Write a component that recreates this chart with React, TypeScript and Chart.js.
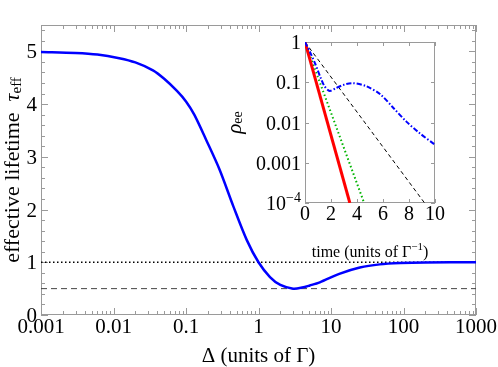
import React, { useEffect, useRef } from 'react';
import { Chart, registerables } from 'chart.js';
Chart.register(...registerables);

// ---------- main chart data ----------
const DELTA = [0.001, 0.003, 0.006, 0.012, 0.02, 0.035, 0.05, 0.075, 0.1, 0.13, 0.19, 0.29, 0.45, 0.69, 1.0, 1.44, 2.0, 3.0, 4.0, 5.1, 7.0, 13, 25, 47, 90, 200, 1000];
const TAU_EFF = [4.99, 4.97, 4.94, 4.87, 4.79, 4.64, 4.48, 4.25, 4.05, 3.8, 3.32, 2.76, 2.06, 1.42, 1.0, 0.72, 0.57, 0.5, 0.52, 0.56, 0.62, 0.78, 0.9, 0.96, 0.985, 0.997, 1.0];
const X_MIN = 0.001;
const X_MAX = 1000;
const Y_MIN = 0;
const Y_MAX = 5.5;
const X_TICKS = [0.001, 0.01, 0.1, 1, 10, 100, 1000];
const X_TICK_LABELS = ['0.001', '0.01', '0.1', '1', '10', '100', '1000'];
const Y_TICKS = [0, 1, 2, 3, 4, 5];
const Y_TICK_LABELS = ['0', '1', '2', '3', '4', '5'];
const LEVEL_DOTTED = 1;
const LEVEL_DASHED = 0.5;

// ---------- inset data ----------
const T_RED = [0, 3.45];
const RHO_RED = [1, 1e-4];
const T_GREEN = [0, 4.55];
const RHO_GREEN = [1, 1e-4];
const T_BLACK = [0, 9.2];
const RHO_BLACK = [1, 1e-4];
const T_BLUE = [0, 0.4, 0.8, 1.2, 1.5, 1.9, 2.4, 3.0, 3.7, 4.7, 5.8, 6.8, 7.8, 8.8, 10];
const RHO_BLUE = [1, 0.55, 0.28, 0.13, 0.08, 0.061, 0.072, 0.087, 0.095, 0.08, 0.05, 0.023, 0.0105, 0.0055, 0.0028];
const T_MIN = 0;
const T_MAX = 10;
const RHO_MIN = 1e-4;
const RHO_MAX = 1;
const T_TICKS = [0, 2, 4, 6, 8, 10];
const T_TICK_LABELS = ['0', '2', '4', '6', '8', '10'];
const RHO_TICKS = [1e-4, 1e-3, 1e-2, 0.1, 1];
const RHO_TICK_LABELS = ['10^\u22124', '0.001', '0.01', '0.1', '1'];

const SERIF = '"Liberation Serif", "DejaVu Serif", serif';
const FRAME = '#9a9a9a';

type Part = { text: string; font: string; dy?: number };

function drawRich(ctx: CanvasRenderingContext2D, parts: Part[], x: number, y: number, align: 'left' | 'center' | 'right', rotate: boolean) {
  ctx.save();
  ctx.translate(x, y);
  if (rotate) ctx.rotate(-Math.PI / 2);
  let total = 0;
  for (const p of parts) {
    ctx.font = p.font;
    total += ctx.measureText(p.text).width;
  }
  let cx = align === 'center' ? -total / 2 : align === 'right' ? -total : 0;
  ctx.fillStyle = '#000';
  ctx.textBaseline = 'alphabetic';
  ctx.textAlign = 'left';
  for (const p of parts) {
    ctx.font = p.font;
    ctx.fillText(p.text, cx, p.dy || 0);
    cx += ctx.measureText(p.text).width;
  }
  ctx.restore();
}

function labelParts(label: string, size: number): Part[] {
  const i = label.indexOf('^');
  if (i < 0) return [{ text: label, font: `${size}px ${SERIF}` }];
  return [
    { text: label.slice(0, i), font: `${size}px ${SERIF}` },
    { text: label.slice(i + 1), font: `${Math.round(size * 0.68)}px ${SERIF}`, dy: -Math.round(size * 0.42) },
  ];
}

// draws tick labels at the positions given by the chart's own scales
function tickLabelPlugin(id: string, xLabels: string[], yLabels: string[], size: number, xBaseGap: number, yGap: number, yShift: number) {
  return {
    id,
    afterDraw(chart: any) {
      const ctx = chart.ctx as CanvasRenderingContext2D;
      const { left, bottom } = chart.chartArea;
      const xs = chart.scales.x;
      const ys = chart.scales.y;
      xs.ticks.forEach((t: any, i: number) => {
        drawRich(ctx, labelParts(xLabels[i], size), xs.getPixelForValue(t.value), bottom + xBaseGap, 'center', false);
      });
      ys.ticks.forEach((t: any, i: number) => {
        drawRich(ctx, labelParts(yLabels[i], size), left - yGap, ys.getPixelForValue(t.value) + yShift, 'right', false);
      });
    },
  };
}

function framePlugin(id: string, xMin: number[], yMin: number[], majLen: number, minLen: number) {
  return {
    id,
    beforeDatasetsDraw(chart: any) {
      const ctx = chart.ctx as CanvasRenderingContext2D;
      const { left, right, top, bottom } = chart.chartArea;
      const xs = chart.scales.x;
      const ys = chart.scales.y;
      ctx.save();
      ctx.strokeStyle = FRAME;
      ctx.lineWidth = 1;
      ctx.strokeRect(left + 0.5, top + 0.5, right - left - 1, bottom - top - 1);
      ctx.beginPath();
      const xt = (vals: number[], len: number) => {
        for (const v of vals) {
          const px = Math.round(xs.getPixelForValue(v)) + 0.5;
          ctx.moveTo(px, bottom);
          ctx.lineTo(px, bottom - len);
          ctx.moveTo(px, top);
          ctx.lineTo(px, top + len);
        }
      };
      const yt = (vals: number[], len: number) => {
        for (const v of vals) {
          const py = Math.round(ys.getPixelForValue(v)) + 0.5;
          ctx.moveTo(left, py);
          ctx.lineTo(left + len, py);
          ctx.moveTo(right, py);
          ctx.lineTo(right - len, py);
        }
      };
      xt(xs.ticks.map((t: any) => t.value), majLen);
      xt(xMin, minLen);
      yt(ys.ticks.map((t: any) => t.value), majLen);
      yt(yMin, minLen);
      ctx.stroke();
      ctx.restore();
    },
  };
}

const mainXMinor: number[] = [];
for (let i = 0; i < X_TICKS.length - 1; i++) for (let k = 2; k <= 9; k++) mainXMinor.push(X_TICKS[i] * k);
const mainYMinor: number[] = [];
for (let i = 0; i <= 27; i++) if (i % 5 !== 0) mainYMinor.push(i * 0.2);

const hiddenTicks = { display: false };
const noGrid = { display: false, drawTicks: false };

export default function App() {
  const mainRef = useRef<HTMLCanvasElement>(null);
  const insetRef = useRef<HTMLCanvasElement>(null);

  useEffect(() => {
    document.body.style.margin = '0';
    const mainTitles = {
      id: 'mainTitles',
      afterDraw(chart: any) {
        const ctx = chart.ctx;
        const { left, right, top, bottom } = chart.chartArea;
        drawRich(ctx, [{ text: '\u0394 (units of \u0393)', font: `21px ${SERIF}` }], (left + right) / 2, 362, 'center', false);
        drawRich(
          ctx,
          [
            { text: 'effective lifetime  ', font: `22px ${SERIF}` },
            { text: '\u03C4', font: `italic 22px ${SERIF}` },
            { text: 'eff', font: `15px ${SERIF}`, dy: 2 },
          ],
          19,
          (top + bottom) / 2,
          'center',
          true
        );
      },
    };

    const main = new Chart(mainRef.current!, {
      type: 'line',
      data: {
        datasets: [
          {
            data: DELTA.map((d, i) => ({ x: d, y: TAU_EFF[i] })),
            borderColor: '#0000ff',
            borderWidth: 2.5,
            pointRadius: 0,
            tension: 0.3,
            order: 0,
          },
          {
            data: [{ x: X_MIN, y: LEVEL_DOTTED }, { x: X_MAX, y: LEVEL_DOTTED }],
            borderColor: '#000',
            borderWidth: 1.5,
            borderDash: [1.5, 2.5],
            pointRadius: 0,
            order: 1,
          },
          {
            data: [{ x: X_MIN, y: LEVEL_DASHED }, { x: X_MAX, y: LEVEL_DASHED }],
            borderColor: '#444',
            borderWidth: 1,
            borderDash: [6, 4],
            pointRadius: 0,
            order: 2,
          },
        ],
      },
      options: {
        responsive: false,
        animation: false,
        devicePixelRatio: 1,
        layout: { padding: { left: 0, top: 25, right: 22, bottom: 0 } },
        plugins: { legend: { display: false }, tooltip: { enabled: false } },
        scales: {
          x: {
            type: 'logarithmic',
            min: X_MIN,
            max: X_MAX,
            grid: noGrid,
            border: { display: false },
            afterBuildTicks: (s: any) => { s.ticks = X_TICKS.map((v) => ({ value: v })); },
            afterFit: (s: any) => { s.height = 52; },
            ticks: hiddenTicks,
          },
          y: {
            type: 'linear',
            min: Y_MIN,
            max: Y_MAX,
            grid: noGrid,
            border: { display: false },
            afterBuildTicks: (s: any) => { s.ticks = Y_TICKS.map((v) => ({ value: v })); },
            afterFit: (s: any) => { s.width = 41; },
            ticks: hiddenTicks,
          },
        },
      } as any,
      plugins: [
        framePlugin('mainFrame', mainXMinor, mainYMinor, 7, 4),
        tickLabelPlugin('mainLabels', X_TICK_LABELS, Y_TICK_LABELS, 21, 18, 4, 7),
        mainTitles,
      ],
    });

    const insetTitles = {
      id: 'insetTitles',
      afterDraw(chart: any) {
        const ctx = chart.ctx;
        const { left, right, top, bottom } = chart.chartArea;
        drawRich(
          ctx,
          [
            { text: '\u03C1', font: `italic 21px ${SERIF}` },
            { text: 'ee', font: `14px ${SERIF}`, dy: 1 },
          ],
          241,
          (top + bottom) / 2,
          'center',
          true
        );
        drawRich(
          ctx,
          [
            { text: 'time (units of \u0393', font: `16px ${SERIF}` },
            { text: '\u22121', font: `11px ${SERIF}`, dy: -7 },
            { text: ')', font: `16px ${SERIF}` },
          ],
          (left + right) / 2,
          257,
          'center',
          false
        );
      },
    };

    const inset = new Chart(insetRef.current!, {
      type: 'line',
      data: {
        datasets: [
          {
            data: T_BLUE.map((t, i) => ({ x: t, y: RHO_BLUE[i] })),
            borderColor: '#0000ff',
            borderWidth: 2,
            borderDash: [5, 2, 1.5, 2],
            pointRadius: 0,
            tension: 0.3,
            order: 0,
          },
          {
            data: T_RED.map((t, i) => ({ x: t, y: RHO_RED[i] })),
            borderColor: '#ff0000',
            borderWidth: 3,
            pointRadius: 0,
            order: 1,
          },
          {
            data: T_GREEN.map((t, i) => ({ x: t, y: RHO_GREEN[i] })),
            borderColor: '#00b400',
            borderWidth: 2,
            borderDash: [1.5, 2.5],
            pointRadius: 0,
            order: 2,
          },
          {
            data: T_BLACK.map((t, i) => ({ x: t, y: RHO_BLACK[i] })),
            borderColor: '#000',
            borderWidth: 1,
            borderDash: [4, 3],
            pointRadius: 0,
            order: 3,
          },
        ],
      },
      options: {
        responsive: false,
        animation: false,
        devicePixelRatio: 1,
        layout: { padding: { left: 0, top: 42, right: 63, bottom: 0 } },
        plugins: { legend: { display: false }, tooltip: { enabled: false } },
        scales: {
          x: {
            type: 'linear',
            min: T_MIN,
            max: T_MAX,
            grid: noGrid,
            border: { display: false },
            afterBuildTicks: (s: any) => { s.ticks = T_TICKS.map((v) => ({ value: v })); },
            afterFit: (s: any) => { s.height = 164; },
            ticks: hiddenTicks,
          },
          y: {
            type: 'logarithmic',
            min: RHO_MIN,
            max: RHO_MAX,
            grid: noGrid,
            border: { display: false },
            afterBuildTicks: (s: any) => { s.ticks = RHO_TICKS.map((v) => ({ value: v })); },
            afterFit: (s: any) => { s.width = 305; },
            ticks: hiddenTicks,
          },
        },
      } as any,
      plugins: [
        framePlugin('insetFrame', [], [], 4, 2),
        tickLabelPlugin('insetLabels', T_TICK_LABELS, RHO_TICK_LABELS, 20, 17, 4, 7),
        insetTitles,
      ],
    });

    return () => {
      main.destroy();
      inset.destroy();
    };
  }, []);

  return (
    <div style={{ position: 'relative', width: 498, height: 367, background: '#fff' }}>
      <canvas ref={mainRef} width={498} height={367} style={{ position: 'absolute', left: 0, top: 0, display: 'block' }} />
      <canvas ref={insetRef} width={498} height={367} style={{ position: 'absolute', left: 0, top: 0, display: 'block' }} />
    </div>
  );
}
